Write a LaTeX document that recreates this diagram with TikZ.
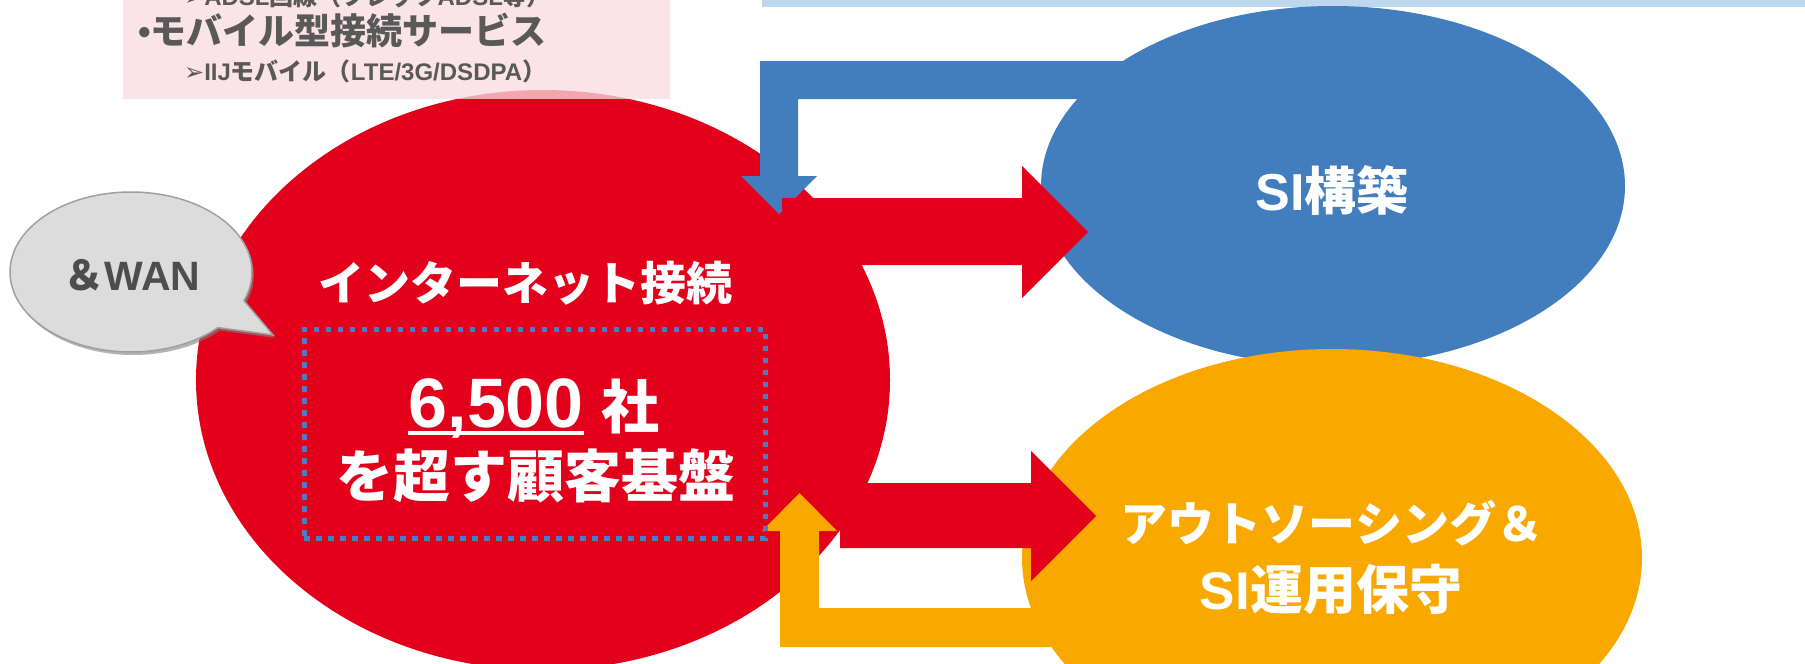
\documentclass[tikz,border=0pt]{standalone}
\usepackage{fontspec}
\setmainfont{Liberation Sans}
\newfontfamily\jp{Noto Sans CJK JP}
\newfontfamily\dv{DejaVu Sans}
\usetikzlibrary{shapes.geometric}
\definecolor{iijred}{HTML}{E2001A}
\definecolor{siblue}{HTML}{427DBE}
\definecolor{orng}{HTML}{F9A800}
\definecolor{lightbar}{HTML}{BDD7EE}
\definecolor{pinkbg}{HTML}{FADBDF}
\definecolor{dotblue}{HTML}{4A7EC4}
\definecolor{textgray}{HTML}{595959}
\definecolor{wangray}{HTML}{4D4D4D}
\definecolor{bubblefill}{HTML}{DCDCDC}
\definecolor{bubbleline}{HTML}{A0A0A0}
\begin{document}
\begin{tikzpicture}[x=1pt,y=-1pt,
  blob/.style={ellipse, inner sep=0pt, outer sep=0pt},
  wtext/.style={text=white, inner sep=0pt},
  gtext/.style={text=textgray, inner sep=0pt, anchor=base west},
  fs/.style={font=\fontsize{#1}{#1}\selectfont}]
\useasboundingbox (0,0) rectangle (1805,664);
\begin{scope}
\clip (0,0) rectangle (1805,664);
% top light blue bar
\fill[lightbar] (762,-10) rectangle (1805,7);
% red ellipse
\node[blob, fill=iijred, minimum width=694pt, minimum height=580pt] (inet) at (543,380) {};
% pink text panel
\fill[pinkbg, fill opacity=0.76] (123,-10) rectangle (670,99);
\node[gtext, fs=24] (adsl) at (184,5) {\bfseries{\dv ➢}ADSL{\jp 回線（フレッツ}ADSL{\jp 等）}};
\node[gtext, fs=36] (mobile) at (138,44) {\bfseries •{\jp モバイル型接続サービス}};
\node[gtext, fs=24] (iijm) at (184,80) {\bfseries{\dv ➢}IIJ{\jp モバイル（}LTE/3G/DSDPA{\jp ）}};
% blue ellipse
\node[blob, fill=siblue, minimum width=584pt, minimum height=360pt] (si) at (1333,186) {};
% blue bent arrow
\fill[siblue] (1150,61) -- (760,61) -- (760,176) -- (741,176) -- (779,214)
  -- (817,176) -- (798,176) -- (798,99) -- (1150,99) -- cycle;
% red arrow to SI
\fill[iijred] (782,198) -- (1022,198) -- (1022,166) -- (1088,232) -- (1022,298)
  -- (1022,265) -- (782,265) -- cycle;
% orange ellipse
\node[blob, fill=orng, minimum width=620pt, minimum height=418pt] (ops) at (1332,558) {};
% red arrow to outsourcing
\fill[iijred] (840,483) -- (1031,483) -- (1031,451) -- (1096,516) -- (1031,581)
  -- (1031,548) -- (840,548) -- cycle;
% orange bent arrow
\fill[orng] (1100,647) -- (780,647) -- (780,531) -- (762,531) -- (799.5,493)
  -- (837,531) -- (819,531) -- (819,608) -- (1100,608) -- cycle;
% speech bubble
\fill[black!50, opacity=0.6, shift={(2pt,-3pt)}] (131,272) ++(44:121 and 80)
  arc[start angle=44, end angle=381, x radius=121, y radius=80] -- (273,335) -- cycle;
\filldraw[fill=bubblefill, draw=bubbleline, line width=1.5pt] (131,272) ++(44:121 and 80)
  arc[start angle=44, end angle=381, x radius=121, y radius=80] -- (273,335) -- cycle;
\node[inner sep=0pt, text=wangray, fs=41, anchor=base] (wan) at (132,290) {\bfseries{\jp ＆}WAN};
% texts in red ellipse
\node[wtext, fs=46, anchor=base] (inettxt) at (525,300) {\jp\bfseries インターネット接続};
\node[draw=dotblue, line width=5pt, dash pattern=on 5.5pt off 6.5pt, minimum width=461pt,
  minimum height=209pt, inner sep=0pt] (box) at (534.5,433.5) {};
\node[wtext, fs=70, anchor=base east] (num) at (584,427) {\bfseries 6,500};
\draw[white, line width=4pt] ([yshift=-6pt]num.base west) -- ([yshift=-6pt]num.base east);
\node[wtext, fs=58, anchor=base west] (sha) at (601,428) {\jp\bfseries 社};
\node[wtext, fs=57, anchor=base] (kokyaku) at (536,497) {\jp\bfseries を超す顧客基盤};
% SI text
\node[wtext, fs=52, anchor=base] (sitxt) at (1332,210) {\bfseries SI{\jp 構築}};
% outsourcing text
\node[wtext, fs=47, anchor=base] (ostxt) at (1332,541) {\jp\bfseries アウトソーシング＆};
\node[wtext, fs=53, anchor=base] (optxt) at (1331,609) {\bfseries SI{\jp 運用保守}};
\end{scope}
\end{tikzpicture}
\end{document}
